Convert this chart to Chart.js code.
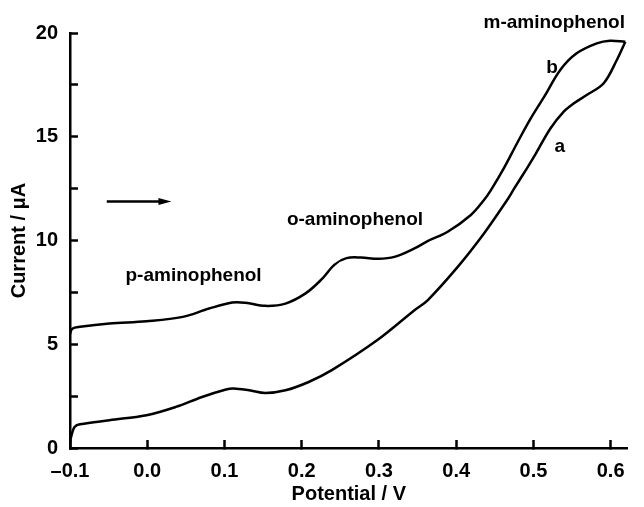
<!DOCTYPE html>
<html>
<head>
<meta charset="utf-8">
<script src="https://cdn.jsdelivr.net/npm/chart.js@4/dist/chart.umd.min.js"></script>
<style>
  html, body { margin: 0; padding: 0; background: #fff; }
  canvas { display: block; }
</style>
</head>
<body>
<canvas id="cv" width="644" height="507"></canvas>
<script>
// curve a (lower branch) - potential (V) and current (uA)
var aPotential = [-0.100, -0.097, -0.094, -0.087, -0.049, -0.001, 0.037, 0.071, 0.102, 0.112, 0.132, 0.153, 0.179, 0.209, 0.239, 0.298, 0.346, 0.363, 0.402, 0.436, 0.466, 0.475, 0.492, 0.501, 0.522, 0.539, 0.552, 0.569, 0.591, 0.608, 0.619];
var aCurrent   = [0.3, 0.75, 1.02, 1.14, 1.34, 1.58, 1.98, 2.46, 2.82, 2.87, 2.78, 2.65, 2.78, 3.18, 3.75, 5.2, 6.64, 7.12, 8.73, 10.34, 11.95, 12.5, 13.5, 14.05, 15.4, 16.2, 16.6, 17.01, 17.58, 18.7, 19.58];

// curve b (upper branch)
var bPotential = [-0.100, -0.097, -0.087, -0.049, -0.001, 0.046, 0.080, 0.110, 0.127, 0.153, 0.179, 0.205, 0.225, 0.243, 0.258, 0.277, 0.299, 0.320, 0.346, 0.363, 0.389, 0.419, 0.436, 0.445, 0.462, 0.479, 0.496, 0.514, 0.535, 0.556, 0.582, 0.599, 0.619];
var bCurrent   = [5.5, 5.75, 5.84, 6.0, 6.11, 6.32, 6.72, 7.01, 7.0, 6.85, 6.96, 7.45, 8.1, 8.85, 9.15, 9.18, 9.12, 9.21, 9.62, 9.97, 10.42, 11.23, 11.95, 12.43, 13.5, 14.7, 15.85, 16.93, 18.23, 19.02, 19.5, 19.63, 19.58];

var xTicks = [-0.1, 0.0, 0.1, 0.2, 0.3, 0.4, 0.5, 0.6];
var yTicks = [0, 2.5, 5, 7.5, 10, 12.5, 15, 17.5, 20];

// text labels placed in data units: [text, potential, current]
var notes = [
  ["m-aminophenol", 0.527, 20.25],
  ["b", 0.524, 18.07],
  ["a", 0.534, 14.26],
  ["o-aminophenol", 0.269, 10.73],
  ["p-aminophenol", 0.060, 8.04]
];
var arrowFrom = [-0.0524, 11.88];
var arrowTo = [0.0313, 11.88];

var FONT = "'Liberation Sans', Arial, Helvetica, sans-serif";

function pts(xs, ys) {
  var out = [];
  for (var i = 0; i < xs.length; i++) out.push({x: xs[i], y: ys[i]});
  return out;
}

var notesPlugin = {
  id: 'notes',
  afterDraw: function(chart) {
    var ctx = chart.ctx, sx = chart.scales.x, sy = chart.scales.y;
    ctx.save();
    ctx.fillStyle = '#000';
    ctx.font = 'bold 19px ' + FONT;
    ctx.textAlign = 'center';
    ctx.textBaseline = 'alphabetic';
    notes.forEach(function(n) {
      ctx.fillText(n[0], sx.getPixelForValue(n[1]), sy.getPixelForValue(n[2]));
    });
    // scan direction arrow
    var x1 = sx.getPixelForValue(arrowFrom[0]), y1 = sy.getPixelForValue(arrowFrom[1]);
    var x2 = sx.getPixelForValue(arrowTo[0]), y2 = sy.getPixelForValue(arrowTo[1]);
    ctx.strokeStyle = '#000';
    ctx.lineWidth = 2.5;
    ctx.beginPath();
    ctx.moveTo(x1, y1);
    ctx.lineTo(x2 - 10, y2);
    ctx.stroke();
    ctx.beginPath();
    ctx.moveTo(x2, y2);
    ctx.lineTo(x2 - 13, y2 - 3.5);
    ctx.lineTo(x2 - 13, y2 + 3.5);
    ctx.closePath();
    ctx.fill();
    ctx.restore();
  }
};

var line = {borderColor: '#000', borderWidth: 2.5, pointRadius: 0, tension: 0.35, fill: false};

new Chart(document.getElementById('cv').getContext('2d'), {
  type: 'line',
  data: {
    datasets: [
      Object.assign({label: 'a', data: pts(aPotential, aCurrent)}, line),
      Object.assign({label: 'b', data: pts(bPotential, bCurrent)}, line)
    ]
  },
  options: {
    responsive: false,
    animation: false,
    layout: {padding: {top: 33, right: 15, left: 0, bottom: 0}},
    plugins: {legend: {display: false}, tooltip: {enabled: false}},
    scales: {
      x: {
        type: 'linear',
        min: -0.1,
        max: 0.622,
        afterFit: function(s) { s.height = 59; },
        afterBuildTicks: function(s) { s.ticks = xTicks.map(function(v) { return {value: v}; }); },
        grid: {drawOnChartArea: false, tickLength: -8, tickColor: '#000', tickWidth: 2.5},
        border: {color: '#000', width: 2.5},
        ticks: {
          color: '#000',
          padding: 19,
          maxRotation: 0,
          font: {family: FONT, size: 20, weight: 'bold'},
          callback: function(v) { return v < 0 ? '\u2013' + Math.abs(v).toFixed(1) : v.toFixed(1); }
        },
        title: {display: true, text: 'Potential / V', color: '#000', padding: {top: 0, bottom: 1},
                font: {family: FONT, size: 20, weight: 'bold'}}
      },
      y: {
        type: 'linear',
        min: 0,
        max: 20,
        afterFit: function(s) { s.width = 70; },
        afterBuildTicks: function(s) { s.ticks = yTicks.map(function(v) { return {value: v}; }); },
        grid: {drawOnChartArea: false, tickLength: -8, tickColor: '#000', tickWidth: 2.5},
        border: {color: '#000', width: 2.5},
        ticks: {
          color: '#000',
          padding: 20,
          font: {family: FONT, size: 20, weight: 'bold'},
          callback: function(v) { return v % 5 === 0 ? String(v) : ''; }
        },
        title: {display: true, text: 'Current / \u03bcA', color: '#000', padding: {top: 7, bottom: 0},
                font: {family: FONT, size: 20, weight: 'bold'}}
      }
    }
  },
  plugins: [notesPlugin]
});
</script>
</body>
</html>
